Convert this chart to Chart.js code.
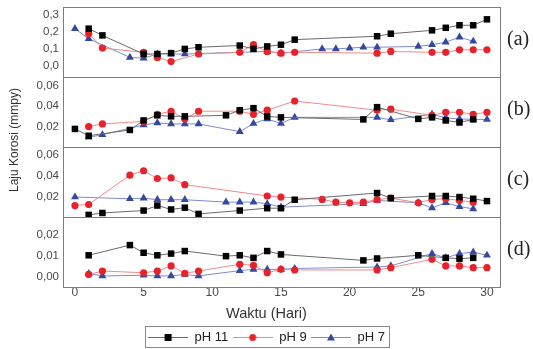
<!DOCTYPE html>
<html>
<head>
<meta charset="utf-8">
<script src="https://cdn.jsdelivr.net/npm/chart.js@4.4.1/dist/chart.umd.min.js"></script>
<style>
  html, body { margin: 0; padding: 0; background: #fff; }
  #wrap { width: 533px; height: 349px; position: relative; }
</style>
</head>
<body>
<div id="wrap"><canvas id="myChart"></canvas></div>
<script>
// series names + panel labels
var seriesNames = ["pH 11", "pH 9", "pH 7"];
var panelLabels = ["(a)", "(b)", "(c)", "(d)"];

// x ticks (days)
var xTicks = [0, 5, 10, 15, 20, 25, 30];

// y ticks per panel
var ticksA = [0.0, 0.1, 0.2, 0.3];
var ticksB = [0.02, 0.04, 0.06];
var ticksC = [0.02, 0.04, 0.06];
var ticksD = [0.00, 0.01, 0.02];

// panel (a)
var a_days11 = [1, 2, 5, 6, 7, 8, 9, 12, 13, 14, 15, 16, 22, 23, 26, 27, 28, 29, 30];
var a_ph11 = [0.22, 0.18, 0.07, 0.07, 0.075, 0.10, 0.11, 0.12, 0.10, 0.115, 0.125, 0.155, 0.175, 0.19, 0.21, 0.225, 0.24, 0.24, 0.275];
var a_days9 = [1, 2, 5, 6, 7, 9, 12, 13, 14, 15, 16, 22, 23, 26, 27, 28, 29, 30];
var a_ph9 = [0.19, 0.105, 0.08, 0.05, 0.025, 0.07, 0.08, 0.125, 0.085, 0.075, 0.08, 0.075, 0.085, 0.08, 0.08, 0.095, 0.095, 0.095];
var a_days7 = [0, 1, 4, 5, 6, 7, 8, 14, 15, 18, 19, 20, 21, 22, 25, 26, 27, 28, 29];
var a_ph7 = [0.22, 0.16, 0.05, 0.045, 0.07, 0.07, 0.07, 0.085, 0.075, 0.10, 0.10, 0.105, 0.11, 0.11, 0.115, 0.125, 0.14, 0.17, 0.145];

// panel (b)
var b_days11 = [0, 1, 4, 5, 6, 7, 8, 11, 12, 13, 14, 15, 21, 22, 25, 26, 27, 28, 29];
var b_ph11 = [0.0177, 0.011, 0.0167, 0.026, 0.031, 0.030, 0.030, 0.031, 0.036, 0.038, 0.030, 0.029, 0.027, 0.039, 0.0275, 0.029, 0.026, 0.024, 0.027];
var b_days9 = [1, 2, 5, 6, 7, 8, 9, 12, 13, 14, 16, 22, 23, 26, 27, 28, 29, 30];
var b_ph9 = [0.020, 0.0226, 0.025, 0.032, 0.035, 0.0275, 0.035, 0.035, 0.032, 0.036, 0.045, 0.036, 0.037, 0.031, 0.034, 0.034, 0.032, 0.034];
var b_days7 = [1, 2, 5, 6, 7, 8, 9, 12, 13, 14, 15, 16, 22, 23, 26, 27, 28, 29, 30];
var b_ph7 = [0.0095, 0.012, 0.0216, 0.0236, 0.0226, 0.0226, 0.0226, 0.015, 0.023, 0.0275, 0.023, 0.029, 0.029, 0.0266, 0.032, 0.0285, 0.0275, 0.027, 0.027];

// panel (c)
var c_days11 = [1, 2, 5, 6, 7, 8, 9, 12, 14, 15, 16, 22, 23, 26, 27, 28, 29, 30];
var c_ph11 = [0.0032, 0.005, 0.0073, 0.012, 0.0083, 0.010, 0.0041, 0.0073, 0.0095, 0.0095, 0.0175, 0.0238, 0.019, 0.021, 0.021, 0.020, 0.0184, 0.0162];
var c_days9 = [0, 1, 4, 5, 6, 7, 8, 14, 15, 18, 19, 20, 21, 22, 23, 25, 26, 27, 28, 29];
var c_ph9 = [0.012, 0.013, 0.0406, 0.0448, 0.0375, 0.038, 0.0317, 0.021, 0.020, 0.0178, 0.0152, 0.0146, 0.0152, 0.0175, 0.019, 0.0146, 0.0178, 0.0184, 0.0168, 0.0152];
var c_days7 = [0, 4, 5, 6, 7, 8, 11, 12, 13, 14, 15, 21, 22, 25, 26, 27, 28, 29];
var c_ph7 = [0.020, 0.0184, 0.019, 0.0175, 0.0175, 0.0175, 0.0152, 0.0152, 0.0152, 0.0137, 0.0105, 0.0137, 0.0168, 0.0146, 0.0098, 0.0146, 0.011, 0.0089];

// panel (d)
var d_days11 = [1, 4, 5, 6, 7, 8, 11, 12, 13, 14, 15, 21, 22, 25, 27, 28, 29];
var d_ph11 = [0.0102, 0.015, 0.0114, 0.0102, 0.011, 0.0122, 0.0098, 0.0102, 0.009, 0.0122, 0.0106, 0.0078, 0.0087, 0.0102, 0.009, 0.0086, 0.009];
var d_days9 = [1, 2, 5, 6, 7, 8, 9, 12, 13, 14, 15, 16, 22, 23, 26, 27, 28, 29, 30];
var d_ph9 = [0.0012, 0.0028, 0.002, 0.0028, 0.0052, 0.0017, 0.0028, 0.006, 0.0055, 0.002, 0.0036, 0.0033, 0.0033, 0.0044, 0.0083, 0.0052, 0.0052, 0.0044, 0.0044];
var d_days7 = [1, 2, 5, 6, 7, 8, 9, 12, 13, 14, 15, 16, 22, 23, 26, 27, 28, 29, 30];
var d_ph7 = [0.0016, 0.0005, 0.0008, 0.0005, 0.0005, 0.0012, 0.0005, 0.003, 0.0036, 0.0036, 0.0036, 0.004, 0.0047, 0.0052, 0.011, 0.009, 0.011, 0.0117, 0.0102];

var lineColors = ["#6a6a6a", "#f08a8a", "#7f8cc8"];
var markColors = ["#000000", "#e8212b", "#33489e"];
var markStyles = ["rect", "circle", "triangle"];
var markRadius = [4.6, 3.6, 4.6];
var frameColor = "#7d7d7d";
var tickColor = "#4a4a4a";

function pts(days, vals) {
    return days.map(function (d, i) { return { x: d, y: vals[i] }; });
}

function makeSet(name, k, axis, days, vals) {
    return {
        label: name,
        data: pts(days, vals),
        yAxisID: axis,
        borderColor: lineColors[k],
        borderWidth: 1,
        pointStyle: markStyles[k],
        pointRadius: markRadius[k],
        pointBackgroundColor: markColors[k],
        pointBorderColor: markColors[k],
        pointBorderWidth: 0,
        fill: false,
        tension: 0
    };
}

var datasets = [
    makeSet(seriesNames[0], 0, "yA", a_days11, a_ph11),
    makeSet(seriesNames[1], 1, "yA", a_days9, a_ph9),
    makeSet(seriesNames[2], 2, "yA", a_days7, a_ph7),
    makeSet(seriesNames[0], 0, "yB", b_days11, b_ph11),
    makeSet(seriesNames[1], 1, "yB", b_days9, b_ph9),
    makeSet(seriesNames[2], 2, "yB", b_days7, b_ph7),
    makeSet(seriesNames[0], 0, "yC", c_days11, c_ph11),
    makeSet(seriesNames[1], 1, "yC", c_days9, c_ph9),
    makeSet(seriesNames[2], 2, "yC", c_days7, c_ph7),
    makeSet(seriesNames[0], 0, "yD", d_days11, d_ph11),
    makeSet(seriesNames[1], 1, "yD", d_days9, d_ph9),
    makeSet(seriesNames[2], 2, "yD", d_days7, d_ph7)
];

// small line + marker icon for the legend
function legendIcon(k) {
    var c = document.createElement("canvas");
    c.width = 40;
    c.height = 12;
    var g = c.getContext("2d");
    g.strokeStyle = lineColors[k];
    g.lineWidth = 1;
    g.beginPath();
    g.moveTo(0, 6.5);
    g.lineTo(40, 6.5);
    g.stroke();
    g.fillStyle = markColors[k];
    g.beginPath();
    if (k == 0) {
        g.rect(16.5, 3, 7, 7);
    } else if (k == 1) {
        g.arc(20, 6.5, 3.5, 0, Math.PI * 2);
    } else {
        g.moveTo(20, 2.5);
        g.lineTo(24, 9.5);
        g.lineTo(16, 9.5);
        g.closePath();
    }
    g.fill();
    return c;
}

function yAxis(min, max, ticks, decimals) {
    return {
        type: "linear",
        position: "left",
        stack: "panels",
        stackWeight: 1,
        min: min,
        max: max,
        afterBuildTicks: function (scale) {
            scale.ticks = ticks.map(function (v) { return { value: v }; });
        },
        afterFit: function (scale) {
            scale.width = 63;
            // labels sit well inside the panel, no extra room needed
            scale.paddingTop = 0;
            scale.paddingBottom = 0;
        },
        grid: { drawOnChartArea: false, drawTicks: false, color: frameColor },
        border: { display: true, color: frameColor },
        ticks: {
            autoSkip: false,
            padding: 4,
            color: tickColor,
            font: { family: "Liberation Sans", size: 11.5 },
            callback: function (v) { return v.toFixed(decimals).replace(".", ","); }
        }
    };
}

var panelIds = ["yA", "yB", "yC", "yD"];

var panelPlugin = {
    id: "panels",
    afterDraw: function (chart) {
        var ctx = chart.ctx;
        var area = chart.chartArea;
        ctx.save();
        ctx.strokeStyle = frameColor;
        ctx.lineWidth = 1;
        panelIds.forEach(function (id, i) {
            var s = chart.scales[id];
            ctx.strokeRect(Math.round(area.left) + 0.5, Math.round(s.top) + 0.5,
                Math.round(area.right - area.left), Math.round(s.bottom - s.top));
            ctx.fillStyle = "#222";
            ctx.font = "20px 'Liberation Serif'";
            ctx.textAlign = "left";
            ctx.textBaseline = "middle";
            ctx.fillText(panelLabels[i], area.right + 7, s.top + (s.bottom - s.top) * 0.47);
        });

        // y title across all panels
        ctx.translate(15, 140);
        ctx.rotate(-Math.PI / 2);
        ctx.fillStyle = "#333";
        ctx.font = "12px 'Liberation Sans'";
        ctx.textAlign = "center";
        ctx.textBaseline = "middle";
        ctx.fillText("Laju Korosi (mmpy)", 0, 0);
        ctx.restore();

        // box around legend items
        var boxes = chart.legend.legendHitBoxes;
        if (boxes && boxes.length) {
            var l = Math.min.apply(null, boxes.map(function (b) { return b.left; }));
            var r = Math.max.apply(null, boxes.map(function (b) { return b.left + b.width; }));
            var t = boxes[0].top;
            var h = boxes[0].height;
            ctx.save();
            ctx.strokeStyle = "#8a8a8a";
            ctx.lineWidth = 1;
            ctx.strokeRect(Math.round(l - 3) + 0.5, Math.round(t - 4.5) + 0.5, Math.round(r - l + 7), Math.round(h + 8));
            ctx.restore();
        }
    }
};

var ctx = document.getElementById("myChart").getContext("2d");
var myChart = new Chart(ctx, {
    type: "line",
    data: { datasets: datasets },
    options: {
        responsive: true,
        maintainAspectRatio: false,
        animation: false,
        layout: { padding: { top: 7, right: 0, left: 0, bottom: 0 } },
        plugins: {
            tooltip: { enabled: false },
            legend: {
                position: "bottom",
                maxHeight: 50,
                title: {
                    display: true,
                    text: "Waktu (Hari)",
                    color: "#333",
                    font: { family: "Liberation Sans", size: 14.5 },
                    padding: { top: 7.75, bottom: 2 }
                },
                labels: {
                    usePointStyle: true,
                    pointStyleWidth: 40,
                    padding: 4.35,
                    color: "#222",
                    font: { family: "Liberation Sans", size: 13 },
                    generateLabels: function (chart) {
                        return seriesNames.map(function (name, k) {
                            return {
                                text: name,
                                pointStyle: legendIcon(k),
                                fillStyle: markColors[k],
                                strokeStyle: markColors[k],
                                lineWidth: 0,
                                hidden: false,
                                datasetIndex: k,
                                fontColor: "#222"
                            };
                        });
                    }
                }
            }
        },
        scales: {
            x: {
                type: "linear",
                min: -0.87,
                max: 30.95,
                afterBuildTicks: function (scale) {
                    scale.ticks = xTicks.map(function (v) { return { value: v }; });
                },
                grid: { drawOnChartArea: false, drawTicks: false, color: frameColor },
                border: { display: true, color: frameColor },
                ticks: {
                    autoSkip: false,
                    padding: 0,
                    color: tickColor,
                    font: { family: "Liberation Sans", size: 12, lineHeight: 1 }
                }
            },
            yD: yAxis(-0.0047, 0.0282, ticksD, 2),
            yC: yAxis(0.0012, 0.0672, ticksC, 2),
            yB: yAxis(0.0, 0.0685, ticksB, 2),
            yA: yAxis(-0.066, 0.348, ticksA, 1),
            // empty right axis: leaves room for the (a)-(d) labels
            yR: {
                position: "right",
                display: true,
                grid: { display: false },
                border: { display: false },
                ticks: { display: false },
                afterFit: function (scale) {
                    scale.width = 33;
                    scale.paddingTop = 0;
                    scale.paddingBottom = 0;
                }
            }
        }
    },
    plugins: [panelPlugin]
});
</script>
</body>
</html>
